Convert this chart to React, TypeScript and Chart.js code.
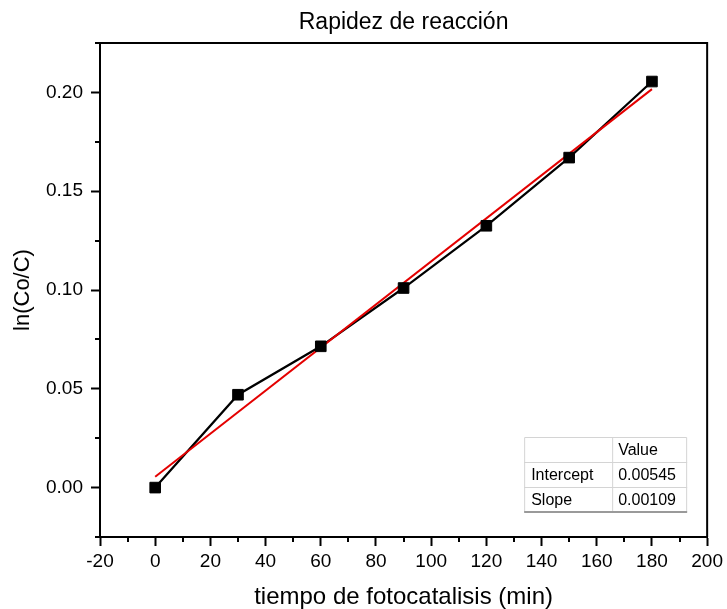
import React, { useEffect, useRef } from "react";
import { Chart, registerables } from "chart.js";

Chart.register(...registerables);

// Measured data: reaction time (min) vs ln(Co/C)
const timeMin = [0, 30, 60, 90, 120, 150, 180];
const lnRatio = [0, 0.047, 0.0715, 0.101, 0.1325, 0.167, 0.2055];

// Linear fit parameters (shown in the inset table)
const fitIntercept = 0.00545;
const fitSlope = 0.00109;
const fitRange = [0, 180];

const chartTitle = "Rapidez de reacción";
const tableHeader = ["", "Value"];
const tableRowNames = ["Intercept", "Slope"];
const tableRowValues = ["0.00545", "0.00109"];

const FONT = "'Liberation Sans', Arial, Helvetica, sans-serif";

const isMajorX = (v: number) => Math.round(v) % 20 === 0;
const isMajorY = (v: number) => Math.round(v * 1000) % 50 === 0;

// Draws the title (centred over the plot), the top/right frame,
// the short minor ticks and the fit-results table.
const framePlugin = {
  id: "frameAndTable",
  afterDraw(chart: any) {
    const { ctx, chartArea: a, scales } = chart;
    const xs = scales.x;
    const ys = scales.y;
    ctx.save();

    ctx.fillStyle = "#000";
    ctx.font = `23px ${FONT}`;
    ctx.textAlign = "center";
    ctx.textBaseline = "middle";
    ctx.fillText(chartTitle, (a.left + a.right) / 2, a.top - 20);

    ctx.strokeStyle = "#000";
    ctx.lineWidth = 2;
    ctx.beginPath();
    ctx.moveTo(a.left, a.top);
    ctx.lineTo(a.right, a.top);
    ctx.lineTo(a.right, a.bottom);
    ctx.stroke();

    const minorLen = 5;
    ctx.beginPath();
    for (const t of xs.ticks) {
      if (isMajorX(t.value)) continue;
      const px = Math.round(xs.getPixelForValue(t.value));
      ctx.moveTo(px, a.bottom);
      ctx.lineTo(px, a.bottom + minorLen);
    }
    for (const t of ys.ticks) {
      if (isMajorY(t.value)) continue;
      const py = Math.round(ys.getPixelForValue(t.value));
      ctx.moveTo(a.left - minorLen, py);
      ctx.lineTo(a.left, py);
    }
    ctx.stroke();

    // Fit results table, anchored to the lower-right corner of the plot
    const right = a.right - 20;
    const bottom = a.bottom - 25;
    const rowH = 25;
    const col1W = 88;
    const col2W = 75;
    const left = right - col1W - col2W;
    const top = bottom - rowH * 3;
    const divX = left + col1W;

    ctx.fillStyle = "#fff";
    ctx.fillRect(left, top, right - left, bottom - top);

    ctx.strokeStyle = "#d4d4d4";
    ctx.lineWidth = 1;
    ctx.beginPath();
    ctx.moveTo(left + 0.5, top + 0.5);
    ctx.lineTo(right - 0.5, top + 0.5);
    ctx.lineTo(right - 0.5, bottom);
    ctx.moveTo(left + 0.5, top + 0.5);
    ctx.lineTo(left + 0.5, bottom);
    ctx.moveTo(divX + 0.5, top);
    ctx.lineTo(divX + 0.5, bottom);
    for (let r = 1; r < 3; r++) {
      const y = top + r * rowH + 0.5;
      ctx.moveTo(left, y);
      ctx.lineTo(right, y);
    }
    ctx.stroke();

    ctx.strokeStyle = "#9a9a9a";
    ctx.lineWidth = 2;
    ctx.beginPath();
    ctx.moveTo(left, bottom);
    ctx.lineTo(right, bottom);
    ctx.stroke();

    ctx.fillStyle = "#000";
    ctx.font = `16px ${FONT}`;
    ctx.textBaseline = "middle";
    ctx.textAlign = "left";
    const cy = (r: number) => top + r * rowH + rowH / 2 + 1;
    ctx.fillText(tableHeader[0], left + 7, cy(0));
    ctx.fillText(tableHeader[1], divX + 6, cy(0));
    tableRowNames.forEach((name, i) => {
      ctx.fillText(name, left + 7, cy(i + 1));
      ctx.fillText(tableRowValues[i], divX + 6, cy(i + 1));
    });
    ctx.restore();
  },
};

export default function App() {
  const canvasRef = useRef<HTMLCanvasElement | null>(null);

  useEffect(() => {
    document.body.style.margin = "0";
    const canvas = canvasRef.current;
    if (!canvas) return;

    const points = timeMin.map((x, i) => ({ x, y: lnRatio[i] }));
    const fitPoints = fitRange.map((x) => ({ x, y: fitIntercept + fitSlope * x }));

    Chart.defaults.font.family = FONT;
    Chart.defaults.color = "#000";

    const chart = new Chart(canvas, {
      type: "scatter",
      data: {
        datasets: [
          {
            data: points,
            showLine: true,
            borderColor: "#000",
            borderWidth: 2.2,
            pointRadius: 0,
            order: 3,
          },
          {
            data: fitPoints,
            showLine: true,
            borderColor: "rgb(228,0,0)",
            borderWidth: 2,
            pointRadius: 0,
            order: 2,
          },
          {
            data: points,
            showLine: false,
            pointStyle: "rect",
            pointRadius: 7.5,
            pointBackgroundColor: "#000",
            pointBorderColor: "#000",
            pointBorderWidth: 1,
            order: 1,
          },
        ],
      },
      options: {
        responsive: false,
        animation: false,
        devicePixelRatio: 1,
        layout: { padding: { left: 0, right: 19, top: 43, bottom: 0 } },
        events: [],
        plugins: {
          legend: { display: false },
          tooltip: { enabled: false },
          title: { display: false },
        },
        scales: {
          x: {
            type: "linear",
            min: -20,
            max: 200,
            afterFit: (s: any) => {
              s.height = 72;
            },
            border: { display: true, color: "#000", width: 2 },
            grid: {
              drawOnChartArea: false,
              drawTicks: true,
              tickLength: 9,
              tickWidth: 2,
              tickColor: (c: any) => (isMajorX(c.tick.value) ? "#000" : "rgba(0,0,0,0)"),
            },
            ticks: {
              stepSize: 10,
              autoSkip: false,
              maxRotation: 0,
              padding: 4,
              color: "#000",
              font: { size: 19, family: FONT },
              callback: (v: any) => (isMajorX(Number(v)) ? String(Math.round(Number(v))) : ""),
            },
            title: {
              display: true,
              text: "tiempo de fotocatalisis (min)",
              color: "#000",
              font: { size: 24, family: FONT },
              padding: { top: 0, bottom: -3 },
            },
          },
          y: {
            type: "linear",
            min: -0.025,
            max: 0.225,
            afterFit: (s: any) => {
              s.width = 100;
            },
            border: { display: true, color: "#000", width: 2 },
            grid: {
              drawOnChartArea: false,
              drawTicks: true,
              tickLength: 9,
              tickWidth: 2,
              tickColor: (c: any) => (isMajorY(c.tick.value) ? "#000" : "rgba(0,0,0,0)"),
            },
            ticks: {
              stepSize: 0.025,
              autoSkip: false,
              padding: 8,
              color: "#000",
              font: { size: 19, family: FONT },
              callback: (v: any) => {
                const k = Math.round(Number(v) * 1000);
                return k % 50 === 0 ? (k / 1000).toFixed(2) : "";
              },
            },
            title: {
              display: true,
              text: "ln(Co/C)",
              color: "#000",
              font: { size: 22, family: FONT },
              padding: { top: 10, bottom: 0 },
            },
          },
        },
      },
      plugins: [framePlugin],
    } as any);

    return () => chart.destroy();
  }, []);

  return (
    <div style={{ width: 727, height: 609 }}>
      <canvas ref={canvasRef} width={727} height={609} />
    </div>
  );
}
